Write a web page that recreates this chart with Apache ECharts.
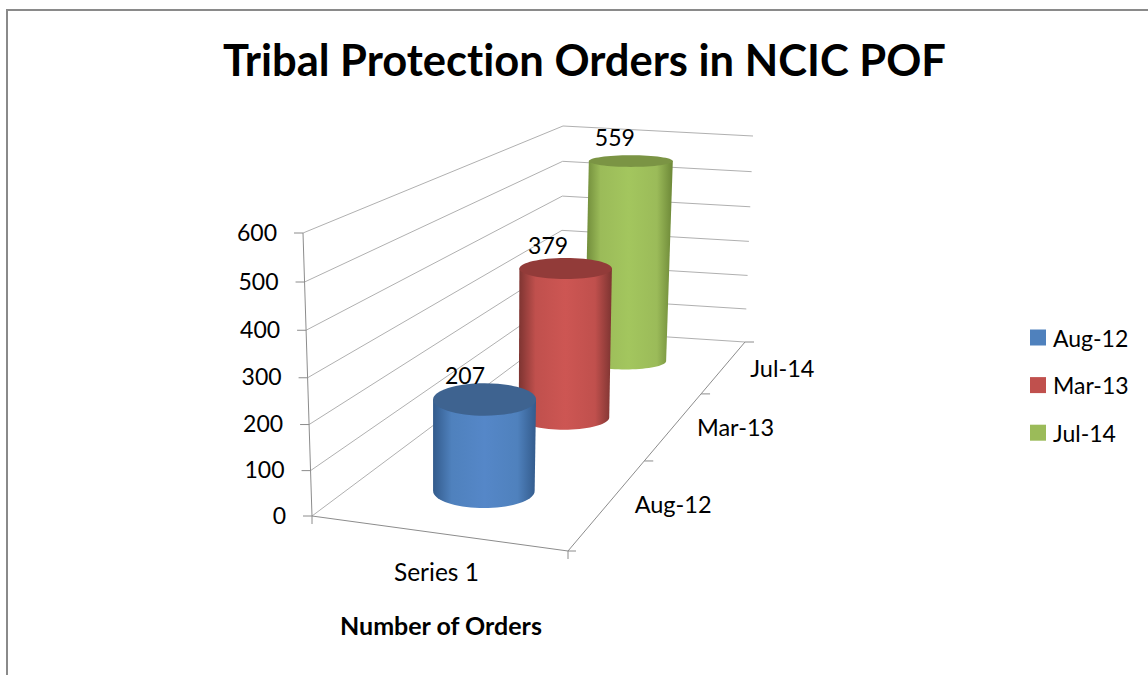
<!DOCTYPE html>
<html>
<head>
<meta charset="utf-8">
<title>Tribal Protection Orders in NCIC POF</title>
<script src="https://cdn.jsdelivr.net/npm/echarts@6/dist/echarts.min.js"></script>
<style>
  html, body { margin: 0; padding: 0; background: #fff; }
  #chart { width: 1148px; height: 675px; font-variant-ligatures: none; }
  #chart text { font-variant-ligatures: none; }
</style>
</head>
<body>
<div id="chart"></div>
<script>
const depthCategories = ['Aug-12', 'Mar-13', 'Jul-14'];
const seriesCategories = ['Series 1'];
const orderValues = [207, 379, 559];
const valueTicks = [0, 100, 200, 300, 400, 500, 600];

const palette = [
  { main: '#4f81bd', edge: '#335b8c', light: '#5587c8', top: '#3e6390' },
  { main: '#c0504d', edge: '#7d3431', light: '#cd5653', top: '#923b39' },
  { main: '#9bbb59', edge: '#6c8737', light: '#a3c65e', top: '#7b9444' }
];
const FONT = 'Lato, "Open Sans", sans-serif';
const TICK_FONT = '23px ' + FONT;
const LABEL_FONT = '23.5px ' + FONT;
const WALL_COLOR = '#b0b0b0';
const AXIS_COLOR = '#8c8c8c';

// corners of the 3d box on screen, everything else is projected from these
const floorCorners = [[312, 516], [568, 551], [745, 342], [561, 330]];
const ceilCorners = [[303, 233], [571, 246], [753, 136], [563, 126]];
const heightPerspective = 0.955;

// maps the unit square on to four screen corners (front-left, front-right, back-right, back-left)
function makeQuad(q) {
  const [a, b, c, d] = q;
  const bx = b[0] - c[0], by = b[1] - c[1];
  const dx = d[0] - c[0], dy = d[1] - c[1];
  const ax = a[0] - c[0], ay = a[1] - c[1];
  const det = bx * dy - dx * by;
  const wu = (ax * dy - dx * ay) / det;
  const wd = (bx * ay - ax * by) / det;
  return function (u, v) {
    const w = 1 + u * (wu - 1) + v * (wd - 1);
    return [
      (a[0] + u * (wu * b[0] - a[0]) + v * (wd * d[0] - a[0])) / w,
      (a[1] + u * (wu * b[1] - a[1]) + v * (wd * d[1] - a[1])) / w
    ];
  };
}
const floorQuad = makeQuad(floorCorners);
const ceilQuad = makeQuad(ceilCorners);

// u along the series axis, d into the depth, h up the value axis, all 0..1
function project(u, d, h) {
  const t = h * heightPerspective / (1 + h * (heightPerspective - 1));
  const p0 = floorQuad(u, d);
  const p1 = ceilQuad(u, d);
  return [p0[0] + (p1[0] - p0[0]) * t, p0[1] + (p1[1] - p0[1]) * t];
}

// value axis and depth axis are hidden, their scales feed the projection
function toBox(api, params, depthIdx, value) {
  const c = api.coord([depthIdx, value]);
  const g = params.coordSys;
  return {
    d: (c[0] - g.x) / g.width,
    h: (g.y + g.height - c[1]) / g.height
  };
}

function line(a, b, color, width) {
  return {
    type: 'line',
    shape: { x1: a[0], y1: a[1], x2: b[0], y2: b[1] },
    style: { stroke: color, lineWidth: width || 1 }
  };
}

function label(text, x, y, font, align) {
  return {
    type: 'text',
    style: {
      text: text,
      x: x,
      y: y,
      font: font || LABEL_FONT,
      fill: '#000',
      align: align || 'center',
      verticalAlign: 'middle'
    }
  };
}

function renderWall(params, api) {
  const value = api.value(1);
  const h = toBox(api, params, 0, value).h;
  const front = project(0, 0, h);
  const corner = project(0, 1, h);
  const right = project(1, 1, h);
  return {
    type: 'group',
    children: [
      line(front, corner, WALL_COLOR),
      line(corner, right, WALL_COLOR),
      line(front, [front[0] - 9, front[1]], AXIS_COLOR),
      label(String(value), front[0] - 26, front[1] - 1.5, TICK_FONT, 'right')
    ]
  };
}

function renderFloor(params, api) {
  const i = params.dataIndex;
  const d0 = i / depthCategories.length;
  const dMid = toBox(api, params, i, 0).d;
  const a = project(1, d0, 0);
  const b = project(1, d0 + 1 / depthCategories.length, 0);
  const mid = project(1, dMid, 0);
  const children = [
    line(a, b, AXIS_COLOR),
    line(b, [b[0] + 9, b[1]], AXIS_COLOR),
    label(depthCategories[i], mid[0] + 64 - 3 * i, mid[1] + 2)
  ];
  if (i === 0) {
    const front = project(0, 0, 0);
    const frontMid = project(0.5, 0, 0);
    children.push(
      line(front, a, AXIS_COLOR),
      line(front, project(0, 0, 1), AXIS_COLOR),
      line(front, [front[0], front[1] + 8], AXIS_COLOR),
      line(a, [a[0] + 8, a[1]], AXIS_COLOR),
      line(a, [a[0], a[1] + 8], AXIS_COLOR),
      label(seriesCategories[0], frontMid[0] + 2, frontMid[1] + 39, '24.5px ' + FONT)
    );
  }
  return { type: 'group', children: children };
}

const BAR_CENTER = 0.513;
const BAR_HALF = 0.21;
const BAR_DEPTH_SHIFT = 0.012;

function ellipseAt(d, h) {
  const c = project(BAR_CENTER, d, h);
  const l = project(BAR_CENTER - BAR_HALF, d, h);
  const r = project(BAR_CENTER + BAR_HALF, d, h);
  const rx = Math.abs(r[0] - l[0]) / 2;
  return { cx: c[0], cy: c[1], rx: rx, ry: rx * (0.37 - 0.2 * d - 0.07 * h) };
}

function renderCylinder(params, api) {
  const p = palette[api.value(0)];
  const pos = toBox(api, params, api.value(0), api.value(1));
  const base = ellipseAt(pos.d - BAR_DEPTH_SHIFT, 0);
  const top = ellipseAt(pos.d - BAR_DEPTH_SHIFT, pos.h);
  const pts = [[top.cx - top.rx, top.cy], [top.cx + top.rx, top.cy]];
  for (let a = 0; a <= 36; a++) {
    const t = a / 36 * Math.PI;
    pts.push([base.cx + base.rx * Math.cos(t), base.cy + base.ry * Math.sin(t)]);
  }
  return {
    type: 'group',
    children: [
      {
        type: 'polygon',
        shape: { points: pts },
        style: {
          fill: new echarts.graphic.LinearGradient(0, 0, 1, 0, [
            { offset: 0, color: p.edge },
            { offset: 0.18, color: p.main },
            { offset: 0.5, color: p.light },
            { offset: 0.82, color: p.main },
            { offset: 1, color: p.edge }
          ])
        }
      },
      {
        type: 'ellipse',
        shape: { cx: top.cx, cy: top.cy, rx: top.rx, ry: top.ry },
        style: { fill: p.top }
      },
      label(String(api.value(1)), top.cx - 0.38 * top.rx, top.cy - 24, TICK_FONT)
    ]
  };
}

// back to front so the near cylinder covers the far one
const cylinderSeries = [2, 1, 0].map(i => ({
  name: depthCategories[i],
  type: 'custom',
  renderItem: renderCylinder,
  itemStyle: { color: palette[i].main },
  data: [[i, orderValues[i]]],
  silent: true
}));

const chart = echarts.init(document.getElementById('chart'), null, { renderer: 'svg' });
chart.setOption({
  animation: false,
  backgroundColor: '#fff',
  title: [
    {
      text: 'Tribal Protection Orders in NCIC POF',
      left: 218,
      top: 32,
      textStyle: { fontFamily: FONT, fontWeight: 'bold', fontSize: 43.5, color: '#000' }
    },
    {
      text: 'Number of Orders',
      left: 335,
      top: 607,
      textStyle: { fontFamily: FONT, fontWeight: 'bold', fontSize: 25, color: '#000' }
    }
  ],
  legend: {
    data: depthCategories,
    orient: 'vertical',
    left: 1025,
    top: 321,
    itemWidth: 16,
    itemHeight: 16,
    itemGap: 24.6,
    icon: 'rect',
    textStyle: { fontFamily: FONT, fontSize: 23, color: '#000', padding: [0, 0, 0, 2] }
  },
  grid: { left: 312, top: 233, width: 256, height: 283, show: false },
  xAxis: { type: 'category', data: depthCategories, show: false },
  yAxis: { type: 'value', min: 0, max: 600, interval: 100, show: false },
  series: [
    {
      name: 'walls',
      type: 'custom',
      renderItem: renderWall,
      data: valueTicks.map(v => [0, v]),
      silent: true
    },
    {
      name: 'floor',
      type: 'custom',
      renderItem: renderFloor,
      data: depthCategories.map((c, i) => [i, 0]),
      silent: true
    }
  ].concat(cylinderSeries),
  graphic: [
    {
      type: 'rect',
      silent: true,
      z: -1,
      shape: { x: 7, y: 10, width: 1300, height: 800 },
      style: { fill: 'none', stroke: '#8a8a8a', lineWidth: 2 }
    }
  ]
});
</script>
</body>
</html>
